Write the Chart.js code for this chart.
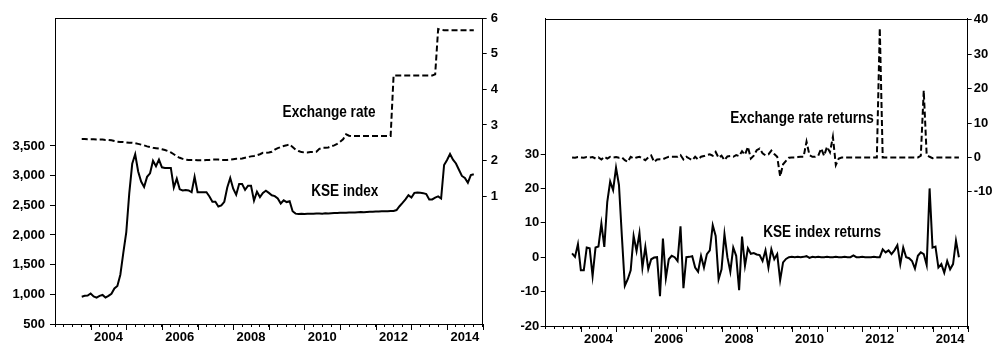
<!DOCTYPE html>
<html>
<head>
<meta charset="utf-8">
<script src="https://cdn.jsdelivr.net/npm/chart.js@4/dist/chart.umd.min.js"></script>
<style>
  html, body { margin: 0; padding: 0; background: #fff; }
  #wrap { position: relative; width: 997px; height: 349px; overflow: hidden; }
  .panel { position: absolute; top: 0; }
  #panelA { left: 0; }
  #panelB { left: 500px; }
</style>
</head>
<body>
<div id="wrap">
  <div class="panel" id="panelA"><canvas id="levels" width="500" height="349"></canvas></div>
  <div class="panel" id="panelB"><canvas id="returns" width="497" height="349"></canvas></div>
</div>
<script>
// Monthly observations, first one in October 2003
const START_YEAR = 2003;
const START_MONTH = 10;

// KSE index level (left axis of the first panel)
const kseIndex = [
  960, 975, 980, 1015, 965, 945, 975, 990, 945, 975,
  1010, 1100, 1140, 1330, 1700, 2050, 2700, 3200, 3360, 3070,
  2900, 2810, 2980, 3040, 3250, 3160, 3270, 3140, 3130, 3130,
  3130, 2800, 2950, 2770, 2750, 2760, 2750, 2720, 2980, 2720,
  2720, 2720, 2720, 2650, 2560, 2560, 2480, 2500, 2560, 2800,
  2960, 2780, 2680, 2860, 2860, 2760, 2830, 2830, 2580, 2730,
  2640, 2710, 2745, 2710, 2670, 2655, 2615, 2530, 2585, 2555,
  2570, 2400, 2360, 2355, 2357, 2354, 2358, 2360, 2357, 2361,
  2363, 2360, 2366, 2364, 2368, 2371, 2369, 2373, 2376, 2374,
  2378, 2381, 2379, 2384, 2386, 2385, 2389, 2391, 2390, 2394,
  2396, 2399, 2400, 2402, 2404, 2405, 2420, 2485, 2540, 2600,
  2670, 2630, 2710, 2715, 2710, 2705, 2690, 2600, 2600, 2630,
  2650, 2615, 3180, 3265, 3365, 3270, 3205, 3100, 2995, 2960,
  2880, 3010, 3025
];

// Exchange rate level (right axis of the first panel)
const exchangeRate = [
  2.61, 2.61, 2.60, 2.60, 2.60, 2.59, 2.59, 2.59, 2.58, 2.58,
  2.57, 2.55, 2.53, 2.52, 2.52, 2.51, 2.50, 2.50, 2.49, 2.47,
  2.45, 2.43, 2.40, 2.38, 2.36, 2.35, 2.34, 2.32, 2.30, 2.27,
  2.23, 2.18, 2.12, 2.08, 2.05, 2.03, 2.02, 2.02, 2.02, 2.01,
  2.01, 2.01, 2.02, 2.02, 2.03, 2.03, 2.03, 2.02, 2.02, 2.02,
  2.03, 2.04, 2.05, 2.05, 2.06, 2.08, 2.10, 2.12, 2.13, 2.15,
  2.18, 2.22, 2.22, 2.23, 2.25, 2.31, 2.35, 2.38, 2.41, 2.43,
  2.46, 2.38, 2.31, 2.27, 2.24, 2.23, 2.23, 2.24, 2.24, 2.25,
  2.33, 2.36, 2.36, 2.37, 2.40, 2.43, 2.47, 2.53, 2.60, 2.74,
  2.70, 2.69, 2.69, 2.69, 2.69, 2.69, 2.69, 2.69, 2.69, 2.69,
  2.69, 2.69, 2.69, 2.69, 2.69, 4.39, 4.39, 4.39, 4.39, 4.39,
  4.39, 4.39, 4.39, 4.39, 4.39, 4.39, 4.39, 4.39, 4.39, 4.42,
  5.69, 5.67, 5.66, 5.66, 5.66, 5.66, 5.66, 5.66, 5.66, 5.66,
  5.66, 5.66, 5.66
];

// KSE index returns, % (left axis of the second panel)
const kseReturns = [
  1.1, 0.1, 3.8, -3.8, -3.8, 2.8, 2.6, -5.5, 2.8, 3.1,
  9.8, 3.0, 16, 22, 19.5, 26, 21, 6, -8.3, -6.4,
  -3.8, 6.2, 1.8, 7, -3, 3, -3.5, -0.6, -0.1, 0,
  -11.3, 5.4, -6.1, -0.6, 0.4, 0, -1.1, 9, -9, 0,
  0.1, 0.3, -3, -4.2, 0.4, -3, 0.9, 2, 9.3, 6.2,
  -6.4, -3.5, 6.7, 0, -4.2, 2.8, 0.4, -9.6, 6, -2.5,
  2.6, 1.0, 1.2, 0.8, 0.6, -1.1, 2.0, -3, 2.3, -0.6,
  0.9, -6.7, -1.5, -0.5, 0.0, 0.1, 0.0, 0.1, 0.0, 0.1,
  0.3, -0.2, 0.1, 0.0, 0.1, 0.0, 0.0, 0.1, 0.0, 0.0,
  0.1, 0.0, 0.0, 0.1, 0.0, 0.0, 0.5, 0.0, 0.0, 0.1,
  0.0, 0.0, 0.0, 0.1, 0.0, 0.0, 2.3, 1.4, 2.0, 0.9,
  2.0, 3.5, -2, 2.8, 0, -0.3, -1.1, -3.3, 0.4, 1.4,
  0.9, -2.3, 20, 2.8, 3.1, -3, -2, -4.5, -1.1, -3.5,
  -2, 4.8, 0
];

// Exchange rate returns, % (right axis of the second panel)
const exchangeReturns = [
  0.0, -0.1, 0.1, 0.0, -0.1, 0.1, 0.0, 0.1, -0.3, 0.0,
  -0.6, 0.2, -0.3, 0.2, 0.0, 0.1, -0.1, 0.0, -0.8, -1.3,
  0.2, -0.3, 0.0, 0.2, -0.3, -0.8, 0.0, 0.6, -1.3, -0.6,
  -0.5, -0.5, -0.1, 0.2, 0.2, 0.2, 0.2, 0.7, -0.6, 0.2,
  -0.3, -0.8, 0.2, -0.6, 0.2, 0.4, 0.7, 0.9, 0.5, 1.6,
  -0.1, 0.5, -0.8, 0.3, 0.4, 0.2, 0.7, 0.4, 1.8, 0.8,
  3.1, -0.3, 0.5, 2.1, 2.6, 1.2, 0.6, 0.9, 2.0, 1.0,
  0.2, -5.5, -2.0, -1.0, -0.1, 0.0, 0.0, 0.1, 0.2, 0.2,
  4.6, 0.7, 0.2, 0.2, 0.5, 2.6, 0.5, 3.1, 1.5, 6.0,
  -2.2, -0.3, 0, 0, 0, 0, 0, 0, 0, 0,
  0, 0, 0, 0, 0, 37.6, 0, 0, 0, 0,
  0, 0, 0, 0, 0, 0, 0, 0, 0, 0.5,
  19.4, 0.7, 0.2, -0.2, 0, 0, 0, 0, 0, 0,
  0, 0, 0
];

// Axis labels
const yearLabels = [2004, 2006, 2008, 2010, 2012, 2014];
const kseTicks = [500, 1000, 1500, 2000, 2500, 3000, 3500];
const rateTicks = [1, 2, 3, 4, 5, 6];
const kseReturnTicks = [-20, -10, 0, 10, 20, 30];
const rateReturnTicks = [-10, 0, 10, 20, 30, 40];

// Decimal-year position of each monthly observation
const monthTimes = kseIndex.map((_, i) => START_YEAR + (START_MONTH - 1 + i) / 12);
const toPoints = arr => arr.map((v, i) => ({ x: monthTimes[i], y: v }));

const FONT = { family: "'Liberation Sans', Arial, sans-serif", size: 13, weight: 'bold' };
const INK = '#000';

// quarterly tick marks between the first and last year of the axis
function quarterTicks(scale) {
  const ticks = [];
  for (let q = scale.min * 4; q <= scale.max * 4; q++) ticks.push({ value: q / 4 });
  scale.ticks = ticks;
}

function xScale(halfYearPx, height) {
  return {
    type: 'linear', min: 2003, max: 2015,
    afterBuildTicks: quarterTicks,
    afterFit: s => { s.height = height; },
    ticks: {
      autoSkip: false, maxRotation: 0, minRotation: 0,
      labelOffset: halfYearPx, padding: 3,
      font: FONT, color: INK,
      callback: v => (Number.isInteger(v) && yearLabels.includes(v)) ? String(v) : ''
    },
    grid: { drawOnChartArea: false, drawTicks: true, tickLength: 3, color: INK, lineWidth: 1 },
    border: { display: true, color: INK, width: 1 }
  };
}

function yScale(position, min, max, tickValues, width, tickLen, pad, fmt) {
  return {
    type: 'linear', position, min, max,
    afterBuildTicks: s => { s.ticks = tickValues.map(v => ({ value: v })); },
    afterFit: s => { s.width = width; },
    ticks: { font: FONT, color: INK, padding: pad, callback: fmt || (v => String(v)) },
    grid: { drawOnChartArea: false, drawTicks: true, tickLength: tickLen, color: INK, lineWidth: 1 },
    border: { display: true, color: INK, width: 1 }
  };
}

// closes the plot frame, lengthens the yearly tick marks and writes the series names
const framePlugin = {
  id: 'frameAndNotes',
  afterDraw(chart) {
    const { ctx, chartArea: a, scales } = chart;
    ctx.save();
    ctx.strokeStyle = INK;
    ctx.lineWidth = 1;
    ctx.beginPath();
    ctx.moveTo(a.left, Math.round(a.top) + 0.5);
    ctx.lineTo(a.right, Math.round(a.top) + 0.5);
    for (let y = 2004; y <= 2015; y++) {
      const px = Math.round(scales.x.getPixelForValue(y)) + 0.5;
      ctx.moveTo(px, a.bottom);
      ctx.lineTo(px, a.bottom + 6);
    }
    ctx.stroke();

    const notes = chart.options.plugins.frameAndNotes.notes || [];
    ctx.fillStyle = INK;
    ctx.font = "bold 16px 'Liberation Sans', Arial, sans-serif";
    ctx.textAlign = 'center';
    ctx.textBaseline = 'alphabetic';
    notes.forEach(n => {
      const x = scales.x.getPixelForValue(n.x);
      const y = scales[n.axis].getPixelForValue(n.y);
      ctx.save();
      ctx.translate(x, y);
      ctx.scale(0.85, 1);
      ctx.fillText(n.text, 0, 0);
      ctx.restore();
    });
    ctx.restore();
  }
};

const thousands = v => v.toLocaleString('en-US');

new Chart(document.getElementById('levels'), {
  type: 'line',
  data: {
    datasets: [
      { label: 'KSE index', data: toPoints(kseIndex), yAxisID: 'y',
        borderColor: INK, borderWidth: 2, pointRadius: 0, tension: 0, fill: false },
      { label: 'Exchange rate', data: toPoints(exchangeRate), yAxisID: 'y1',
        borderColor: INK, borderWidth: 2, borderDash: [6, 3], pointRadius: 0, tension: 0, fill: false }
    ]
  },
  options: {
    responsive: false, animation: false, devicePixelRatio: 1,
    layout: { padding: { top: 18, left: 0, right: 0, bottom: 0 } },
    plugins: {
      legend: { display: false }, tooltip: { enabled: false },
      frameAndNotes: { notes: [
        { text: 'Exchange rate', x: 2010.69, y: 3.22, axis: 'y1' },
        { text: 'KSE index', x: 2011.13, y: 2650, axis: 'y' }
      ] }
    },
    scales: {
      x: xScale(17.8, 25),
      y: yScale('left', 500, 5657, kseTicks, 55, 5, 5, thousands),
      y1: yScale('right', -2.58, 6, rateTicks, 17.3, 4, 4)
    }
  },
  plugins: [framePlugin]
});

new Chart(document.getElementById('returns'), {
  type: 'line',
  data: {
    datasets: [
      { label: 'KSE index returns', data: toPoints(kseReturns), yAxisID: 'y',
        borderColor: INK, borderWidth: 2, pointRadius: 0, tension: 0, fill: false },
      { label: 'Exchange rate returns', data: toPoints(exchangeReturns), yAxisID: 'y1',
        borderColor: INK, borderWidth: 2, borderDash: [6, 3], pointRadius: 0, tension: 0, fill: false }
    ]
  },
  options: {
    responsive: false, animation: false, devicePixelRatio: 1,
    layout: { padding: { top: 18.5, left: 0, right: 0, bottom: 0 } },
    plugins: {
      legend: { display: false }, tooltip: { enabled: false },
      frameAndNotes: { notes: [
        { text: 'Exchange rate returns', x: 2010.29, y: 9.9, axis: 'y1' },
        { text: 'KSE index returns', x: 2010.86, y: 6.0, axis: 'y' }
      ] }
    },
    scales: {
      x: xScale(17.6, 23),
      y: yScale('left', -20, 69.4, kseReturnTicks, 45.7, 5, 1.5),
      y1: yScale('right', -49, 40.4, rateReturnTicks, 29.3, 4, 2)
    }
  },
  plugins: [framePlugin]
});
</script>
</body>
</html>
